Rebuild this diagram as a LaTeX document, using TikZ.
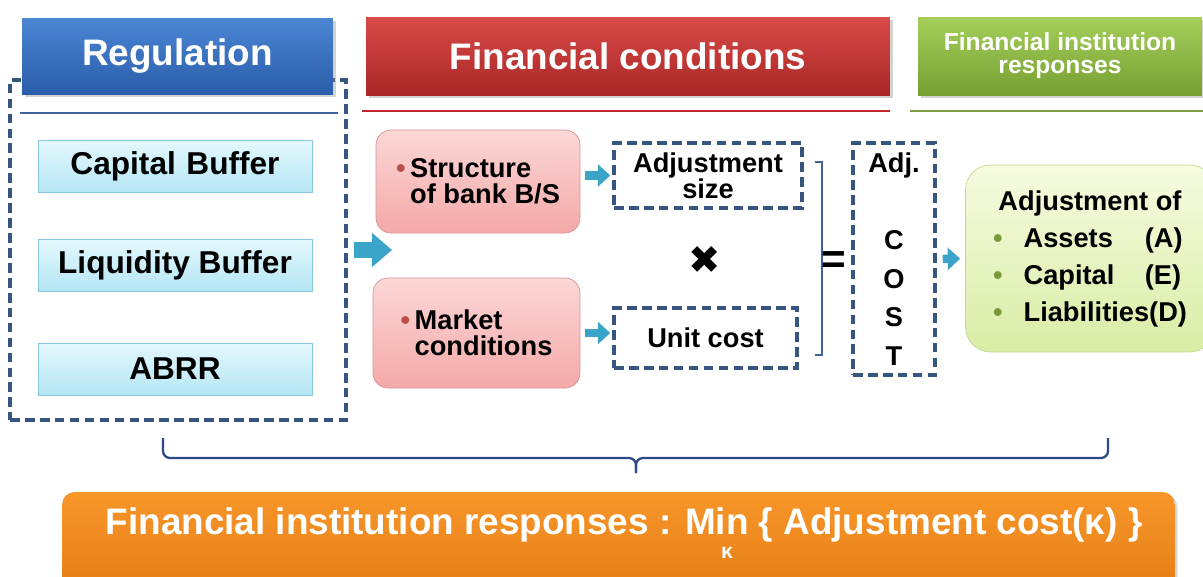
\documentclass[tikz,border=0pt]{standalone}
\usepackage{fontspec}
\setmainfont{Liberation Sans}
\newfontfamily\symfont{DejaVu Sans}
\usetikzlibrary{arrows.meta,shadows}
\definecolor{hdrbluetop}{HTML}{4A86D4}
\definecolor{hdrbluebot}{HTML}{2B5DAA}
\definecolor{hdrredtop}{HTML}{D94A48}
\definecolor{hdrredbot}{HTML}{A82726}
\definecolor{hdrgreentop}{HTML}{A5CF5A}
\definecolor{hdrgreenbot}{HTML}{76A032}
\definecolor{goaltop}{HTML}{F8962A}
\definecolor{goalbot}{HTML}{E37C12}
\definecolor{cyantop}{HTML}{E4F8FD}
\definecolor{cyanbot}{HTML}{B4E6F5}
\definecolor{cyanline}{HTML}{8AC6DB}
\definecolor{pinktop}{HTML}{FBD7D7}
\definecolor{pinkbot}{HTML}{F4A9A8}
\definecolor{pinkline}{HTML}{D89494}
\definecolor{limetop}{HTML}{F6FBE0}
\definecolor{limebot}{HTML}{D9EDA5}
\definecolor{limeline}{HTML}{BFD98F}
\definecolor{rulblue}{HTML}{3F6298}
\definecolor{rulred}{HTML}{C0272D}
\definecolor{rulgreen}{HTML}{7E9E45}
\definecolor{dashblue}{HTML}{36557F}
\definecolor{arrcyan}{HTML}{3AA5C8}
\definecolor{bulred}{HTML}{B9504C}
\definecolor{bulgreen}{HTML}{7A9A3A}
\definecolor{bracenavy}{HTML}{2C4A86}
\begin{document}
\begin{tikzpicture}[x=0.02cm,y=-0.02cm,
  hdr/.style={inner sep=0pt, text=white, align=center,
    drop shadow={opacity=0.35,shadow xshift=1.5pt,shadow yshift=-1.5pt}},
  dbox/.style={draw=dashblue, line width=2pt, dash pattern=on 5.5pt off 3pt, inner sep=0pt,
    font=\bfseries\fontsize{15.5}{15}\selectfont, align=center},
  regitem/.style={draw=cyanline, top color=cyantop, bottom color=cyanbot, minimum width=5.48cm,
    minimum height=1.04cm, font=\bfseries\fontsize{18}{20}\selectfont},
  cond/.style={draw=pinkline, top color=pinktop, bottom color=pinkbot, rounded corners=0.3cm,
    inner sep=0pt, font=\bfseries\fontsize{15.5}{15}\selectfont, align=left},
  flow/.style={draw=arrcyan, line width=0.17cm, -{Triangle[length=0.25cm,width=0.44cm]}},
  rul/.style={line width=1.3pt},
  brc/.style={draw=bracenavy, line width=1.3pt, rounded corners=0.14cm}]
\clip (0,0) rectangle (1203,576);

\node[dbox, minimum width=6.72cm, minimum height=6.8cm] (reg) at (178,250) {};

\node[hdr, top color=hdrbluetop, bottom color=hdrbluebot, minimum width=6.22cm, minimum height=1.52cm,
  font=\bfseries\fontsize{21}{24}\selectfont] (hreg) at (177.5,56) {Regulation};
\node[hdr, top color=hdrredtop, bottom color=hdrredbot, minimum width=10.48cm, minimum height=1.56cm,
  font=\bfseries\fontsize{21}{24}\selectfont] (hcond) at (628,56) {Financial conditions};
\node[hdr, top color=hdrgreentop, bottom color=hdrgreenbot, minimum width=5.68cm, minimum height=1.56cm,
  font=\bfseries\fontsize{14}{13}\selectfont] (hresp) at (1060,56) {Financial institution\\responses};

\draw[rul, rulblue] (20,113) -- (338,113);
\draw[rul, rulred] (362,111) -- (890,111);
\draw[rul, rulgreen] (910,111) -- (1203,111);

\node[regitem] (capbuf) at (175,166) {Capital\,\,Buffer};
\node[regitem] (liqbuf) at (175,265) {Liquidity Buffer};
\node[regitem] (abrr) at (175,369) {ABRR};

\coordinate (fc) at (392,250);
\draw[draw=arrcyan, line width=0.32cm, -{Triangle[length=0.4cm,width=0.66cm]}, shorten <=0.12cm] (reg.east |- fc) -- (fc);

\node[cond, minimum width=4.08cm, minimum height=2.06cm] (struct) at (478,181.5)
  {\textcolor{bulred}{\textbullet}\,Structure\\\phantom{\textbullet\,}of bank B/S};
\node[cond, minimum width=4.14cm, minimum height=2.2cm] (market) at (476.5,333)
  {\textcolor{bulred}{\textbullet}\,Market\\\phantom{\textbullet\,}conditions};

\node[dbox, minimum width=3.76cm, minimum height=1.3cm] (adjsize) at (708,175.5) {Adjustment\\size};
\node[dbox, minimum width=3.66cm, minimum height=1.2cm] (unitcost) at (705.5,338) {Unit cost};

\draw[flow, shorten <=0.1cm, shorten >=0.04cm] (struct.east |- adjsize) -- (adjsize.west);
\draw[flow, shorten <=0.1cm, shorten >=0.04cm] (market.east) -- (market.east -| unitcost.west);

\node[font=\symfont\fontsize{22}{22}\selectfont] (times) at (705,260) {✖};

\draw[rulblue, line width=1.2pt] (815,162) -- (822,162) -- (822,355) -- (815,355);
\node[font=\bfseries\fontsize{24}{24}\selectfont] (equals) at (834,263) {=};

\node[dbox, minimum width=1.64cm, minimum height=4.64cm, font=\bfseries\fontsize{15.5}{22}\selectfont] (cost) at (894,259)
  {Adj.\\[22pt]C\\O\\S\\T};

\node[draw=limeline, top color=limetop, bottom color=limebot, rounded corners=0.5cm,
  minimum width=4.98cm, minimum height=3.74cm, inner sep=0pt] (resp) at (1090,258.5)
  {\bfseries\fontsize{15.5}{21}\selectfont
   \begin{tabular}{@{}l@{\hspace{12pt}}l@{}}
   \multicolumn{2}{@{}c@{}}{Adjustment of}\\
   \textcolor{bulgreen}{\textbullet} & \makebox[69pt][l]{Assets}(A)\\
   \textcolor{bulgreen}{\textbullet} & \makebox[69pt][l]{Capital}(E)\\
   \textcolor{bulgreen}{\textbullet} & Liabilities(D)
   \end{tabular}};

\draw[flow, shorten <=0.12cm, shorten >=0.1cm] (cost.east) -- (resp.west);

\coordinate (brl) at (163,438);
\coordinate (brr) at (1108,438);
\coordinate (brtip) at (636,473);
\draw[brc] (brl) -- (brl |- 0,458) -- (brtip |- 0,458) -- (brtip);
\draw[brc] (brr) -- (brr |- 0,458) -- (brtip |- 0,458) -- (brtip);

\node[top color=goaltop, bottom color=goalbot, rounded corners=0.25cm, minimum width=22.26cm,
  minimum height=2.16cm, drop shadow={opacity=0.3,shadow xshift=1.5pt,shadow yshift=-1.5pt}] (goal) at (618.5,546) {};
\node[text=white, font=\bfseries\fontsize{21}{24}\selectfont] (goaltext) at (624,525)
  {Financial institution responses : Min \{ Adjustment cost(κ) \}};
\node[text=white, font=\bfseries\fontsize{12}{12}\selectfont] (kappa) at (727,553) {κ};
\end{tikzpicture}
\end{document}
